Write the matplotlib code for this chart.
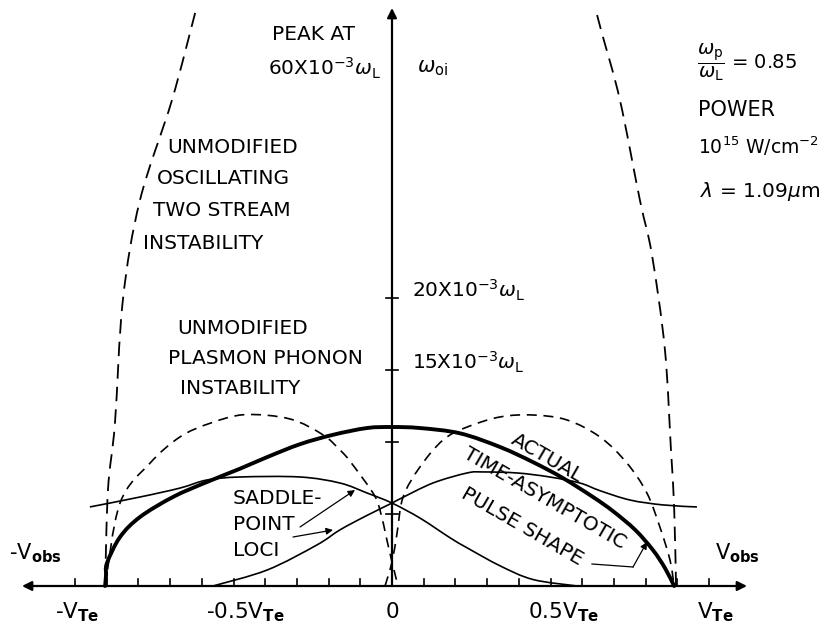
import numpy as np
import matplotlib
matplotlib.use('Agg')
import matplotlib.pyplot as plt
from matplotlib.path import Path
from matplotlib.patches import PathPatch

# x in units of V_Te, y in units of 1e-3 omega_L
# unmodified oscillating two stream (big dashed)
otsi_left_x = [-0.621, -0.694, -0.795, -0.849, -0.874, -0.896, -0.905]
otsi_left_y = [39.8, 33.75, 26.8, 19.86, 11.3, 6.67, 0.0]
otsi_right_x = [0.647, 0.662, 0.719, 0.782, 0.820, 0.861, 0.880, 0.890, 0.896]
otsi_right_y = [39.65, 38.4, 33.75, 26.8, 23.0, 16.4, 9.44, 5.49, 0.0]

# unmodified plasmon phonon (medium dashed arcs)
pp_left_x = [-0.905, -0.858, -0.763, -0.669, -0.574, -0.464, -0.322, -0.218, -0.164,
             -0.132, -0.060, -0.038, -0.016, 0.0, 0.019]
pp_left_y = [0.0, 5.76, 8.54, 10.35, 11.3, 11.9, 11.6, 10.5, 9.44,
             8.65, 6.46, 5.28, 3.19, 1.67, 0.0]
pp_right_x = [-0.022, 0.0, 0.016, 0.035, 0.088, 0.161, 0.237, 0.341, 0.445,
              0.552, 0.656, 0.741, 0.804, 0.845, 0.877, 0.890]
pp_right_y = [0.0, 1.67, 3.68, 6.18, 8.26, 10.14, 11.04, 11.74, 11.875,
              11.53, 10.35, 8.54, 6.46, 4.1, 1.8, 0.0]

# actual time-asymptotic pulse shape (bold)
pulse_x = [-0.905, -0.902, -0.899, -0.858, -0.795, -0.691, -0.584, -0.479, -0.394,
           -0.290, -0.186, -0.079, 0.0, 0.088, 0.215, 0.341, 0.445, 0.539, 0.634,
           0.697, 0.767, 0.823, 0.861, 0.890]
pulse_y = [0.0, 0.76, 1.6, 3.4, 4.79, 6.18, 7.22, 8.15, 8.95,
           9.85, 10.5, 10.97, 11.04, 10.97, 10.6, 9.65, 8.6, 7.5, 6.18,
           5.2, 3.9, 2.5, 1.25, 0.0]

# saddle point loci (thin solid)
locus_a_x = [-0.953, -0.795, -0.669, -0.584, -0.479, -0.290, -0.164, -0.079, 0.0,
             0.088, 0.183, 0.237, 0.341, 0.445, 0.584]
locus_a_y = [5.49, 6.18, 6.8, 7.36, 7.57, 7.57, 7.15, 6.46, 5.76,
             4.72, 3.35, 2.65, 1.4, 0.45, 0.0]
locus_b_x = [-0.565, -0.394, -0.237, -0.164, -0.079, 0.0, 0.025, 0.129, 0.237,
             0.287, 0.394, 0.498, 0.593, 0.656, 0.751, 0.855, 0.962]
locus_b_y = [0.0, 1.11, 2.85, 3.9, 4.9, 5.76, 6.05, 7.15, 7.85,
             7.92, 7.85, 7.57, 7.15, 6.62, 5.97, 5.63, 5.49]

x_ticks = np.round(np.arange(-1.0, 1.01, 0.1), 2)
y_ticks = [5, 10, 15, 20]
x_tick_labels = [r'-V$_\mathbf{Te}$', r'-0.5V$_\mathbf{Te}$', '0',
                 r'0.5V$_\mathbf{Te}$', r'V$_\mathbf{Te}$']
x_tick_label_px = [77, 245, 392, 563, 715]

W, H = 825, 628
fig = plt.figure(figsize=(W / 100, H / 100), dpi=100, facecolor='white')
ax = fig.add_axes([0, 0, 1, 1])
x0, sx = 392, 317.0     # pixel of x=0, pixels per V_Te
y0, sy = 586, 14.4      # pixel of y=0, pixels per 1e-3 omega_L
ax.set_xlim(-x0 / sx, (W - x0) / sx)
ax.set_ylim(-(H - y0) / sy, y0 / sy)
ax.axis('off')

def P(px, py):
    return ((px - x0) / sx, (y0 - py) / sy)

def smooth(xs, ys, **kw):
    # catmull-rom through the read points, drawn as bezier path
    p = np.column_stack([xs, ys])
    ext = np.vstack([p[0], p, p[-1]])
    verts = [p[0]]
    codes = [Path.MOVETO]
    for i in range(1, len(ext) - 2):
        a, b, c, d = ext[i - 1], ext[i], ext[i + 1], ext[i + 2]
        verts += [b + (c - a) / 6, c - (d - b) / 6, c]
        codes += [Path.CURVE4] * 3
    ax.add_patch(PathPatch(Path(verts, codes), fill=False, color='k', **kw))

# axes with arrows
ax.annotate('', xy=P(747, y0), xytext=P(22, y0),
            arrowprops=dict(arrowstyle='<|-|>', lw=1.6, color='k', mutation_scale=14, shrinkA=0, shrinkB=0))
ax.annotate('', xy=P(x0, 8), xytext=P(x0, y0),
            arrowprops=dict(arrowstyle='-|>', lw=1.6, color='k', mutation_scale=14, shrinkA=0, shrinkB=0))
for t in x_ticks:
    if t != 0:
        ax.plot([t, t], [0, 0.5], color='k', lw=1.2)
for t in y_ticks:
    ax.plot([-0.02, 0.02], [t, t], color='k', lw=1.2)

smooth(otsi_left_x, otsi_left_y, lw=1.3, linestyle=(0, (8, 4.5)))
smooth(otsi_right_x, otsi_right_y, lw=1.3, linestyle=(0, (8, 4.5)))
smooth(pp_left_x, pp_left_y, lw=1.2, linestyle=(0, (6, 4)))
smooth(pp_right_x, pp_right_y, lw=1.2, linestyle=(0, (6, 4)))
smooth(pulse_x, pulse_y, lw=2.8, capstyle='round')
smooth(locus_a_x, locus_a_y, lw=1.2)
smooth(locus_b_x, locus_b_y, lw=1.2)

# saddle point arrows
arr = dict(arrowstyle='-|>', lw=0.9, color='k', mutation_scale=10, shrinkA=0, shrinkB=0)
ax.annotate('', xy=P(355, 490), xytext=P(300, 527), arrowprops=arr)
ax.annotate('', xy=P(333, 530), xytext=P(293, 537), arrowprops=arr)
# pulse shape leader
lx, ly = zip(P(592, 564), P(633, 567))
ax.plot(lx, ly, color='k', lw=0.9)
ax.annotate('', xy=P(647, 542), xytext=P(633, 567), arrowprops=arr)

def T(px, py, s, size=14.5, ha='left', rot=0):
    fig.text(px / W, 1 - py / H, s, fontsize=size, ha=ha, va='center',
             rotation=rot, rotation_mode='anchor')

T(272, 34, 'PEAK AT')
T(268, 68, r'60X10$^{-3}$$\omega_\mathrm{L}$')
T(417, 68, r'$\omega_\mathrm{oi}$', 15)

T(167, 148, 'UNMODIFIED')
T(157, 179, 'OSCILLATING')
T(153, 211, 'TWO STREAM')
T(143, 243, 'INSTABILITY')

T(412, 290, r'20X10$^{-3}$$\omega_\mathrm{L}$')
T(412, 362, r'15X10$^{-3}$$\omega_\mathrm{L}$')

T(177, 328, 'UNMODIFIED')
T(168, 358, 'PLASMON PHONON')
T(180, 388, 'INSTABILITY')

T(233, 498, 'SADDLE-')
T(233, 524, 'POINT')
T(233, 551, 'LOCI')

T(547, 458, 'ACTUAL', 14.5, 'center', -30)
T(545, 498, 'TIME-ASYMPTOTIC', 14.5, 'center', -30)
T(522, 527, 'PULSE SHAPE', 14.5, 'center', -30)

T(9, 553, r'-V$_\mathbf{obs}$', 15)
T(715, 553, r'V$_\mathbf{obs}$', 15)
for px, s in zip(x_tick_label_px, x_tick_labels):
    T(px, 612, s, 15.5, 'center')

T(697, 62, r'$\dfrac{\omega_\mathrm{p}}{\omega_\mathrm{L}}$ = 0.85', 14)
T(698, 110, 'POWER', 15)
T(698, 146, r'10$^{15}$ W/cm$^{-2}$', 13.5)
T(700, 192, r'$\lambda$ = 1.09$\mu$m', 14.5)

fig.savefig('out.png', dpi=100, facecolor='white')
